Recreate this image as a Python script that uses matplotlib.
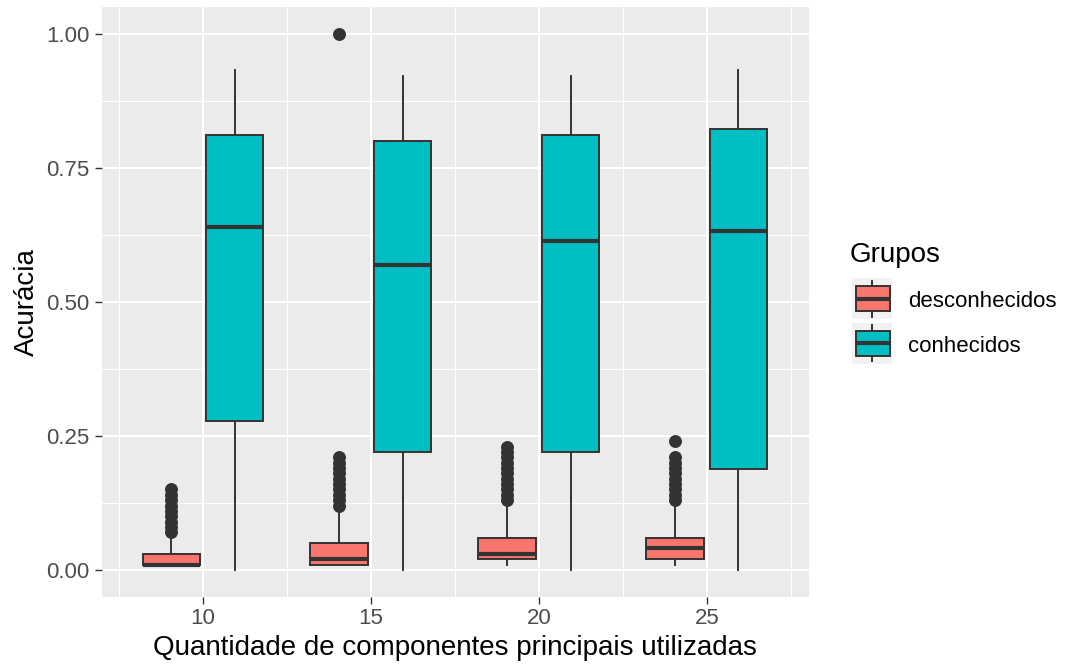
import matplotlib
matplotlib.use("Agg")
import matplotlib.pyplot as plt
from matplotlib.patches import Rectangle
from matplotlib.lines import Line2D

plt.rcParams["font.family"] = ["Liberation Sans", "DejaVu Sans"]

# ---- data -------------------------------------------------------------
componentes = [10, 15, 20, 25]
grupos = ["desconhecidos", "conhecidos"]
cores = ["#F8766D", "#00BFC4"]

# grupo "desconhecidos"
desc_q1 = [0.01, 0.01, 0.02, 0.02]
desc_med = [0.01, 0.02, 0.03, 0.04]
desc_q3 = [0.03, 0.05, 0.06, 0.06]
desc_lo = [0.01, 0.01, 0.01, 0.01]
desc_hi = [0.06, 0.11, 0.12, 0.12]
desc_out = [
    [0.07, 0.08, 0.09, 0.10, 0.11, 0.12, 0.13, 0.14, 0.15],
    [0.12, 0.13, 0.14, 0.15, 0.16, 0.17, 0.18, 0.19, 0.20, 0.21, 1.00],
    [0.13, 0.14, 0.15, 0.16, 0.17, 0.18, 0.19, 0.20, 0.21, 0.22, 0.23],
    [0.13, 0.14, 0.15, 0.16, 0.17, 0.18, 0.19, 0.20, 0.21, 0.24],
]

# grupo "conhecidos"
conh_q1 = [0.277, 0.219, 0.219, 0.189]
conh_med = [0.639, 0.568, 0.613, 0.633]
conh_q3 = [0.811, 0.800, 0.811, 0.822]
conh_lo = [0.0, 0.0, 0.0, 0.0]
conh_hi = [0.932, 0.921, 0.921, 0.932]
conh_out = [[], [], [], []]

y_ticks = [0.0, 0.25, 0.50, 0.75, 1.00]
y_ticklabels = ["0.00", "0.25", "0.50", "0.75", "1.00"]

# ---- styling ------------------------------------------------------------
W, H = 1065, 665
PANEL = "#EBEBEB"
DARK = "#333333"
OFFSET = 0.94      # dodge offset of each group around the x value
BOX_W = 1.72       # box width in x units
LW = 1.4

fig = plt.figure(figsize=(W / 100, H / 100), dpi=100)
left, right, top, bottom = 102, 808.7, 7, 596.7
ax = fig.add_axes([left / W, 1 - bottom / H, (right - left) / W, (bottom - top) / H])
ax.set_facecolor(PANEL)


def stats_for(q1, med, q3, lo, hi, out):
    return [dict(q1=a, med=b, q3=c, whislo=d, whishi=e, fliers=f)
            for a, b, c, d, e, f in zip(q1, med, q3, lo, hi, out)]


series = [
    (stats_for(desc_q1, desc_med, desc_q3, desc_lo, desc_hi, desc_out), -OFFSET, cores[0]),
    (stats_for(conh_q1, conh_med, conh_q3, conh_lo, conh_hi, conh_out), OFFSET, cores[1]),
]

for stats, shift, cor in series:
    ax.bxp(
        stats,
        positions=[c + shift for c in componentes],
        widths=BOX_W,
        patch_artist=True,
        showcaps=False,
        manage_ticks=False,
        boxprops=dict(facecolor=cor, edgecolor=DARK, linewidth=LW),
        medianprops=dict(color=DARK, linewidth=3.0, solid_capstyle="butt"),
        whiskerprops=dict(color=DARK, linewidth=LW),
        flierprops=dict(marker="o", markerfacecolor=DARK, markeredgecolor=DARK,
                        markersize=8.3, linestyle="none"),
        zorder=3,
    )

ax.set_xlim(6.994, 28.03)
ax.set_ylim(-0.05, 1.05)
ax.set_xticks(componentes)
ax.set_xticklabels([str(c) for c in componentes])
ax.set_xticks([7.5, 12.5, 17.5, 22.5, 27.5], minor=True)
ax.set_yticks(y_ticks)
ax.set_yticklabels(y_ticklabels)
ax.set_yticks([0.125, 0.375, 0.625, 0.875], minor=True)

ax.grid(which="major", color="white", linewidth=1.5)
ax.grid(which="minor", color="white", linewidth=0.75)
ax.set_axisbelow(True)
for s in ax.spines.values():
    s.set_visible(False)
ax.tick_params(which="major", length=4.8, width=1.0, color=DARK,
               labelcolor="#4D4D4D", labelsize=16, pad=4)
ax.tick_params(axis="x", which="major", pad=3)
ax.tick_params(which="minor", length=0)

ax.set_xlabel("Quantidade de componentes principais utilizadas", fontsize=20,
              color="black", va="baseline")
ax.xaxis.set_label_coords((455 - left) / (right - left), (bottom - 655) / (bottom - top))
ax.set_ylabel("Acurácia", fontsize=20, color="black", va="baseline",
              rotation_mode="anchor")
ax.yaxis.set_label_coords((33.5 - left) / (right - left), (bottom - 302) / (bottom - top))

# ---- legend ---------------------------------------------------------------
leg = fig.add_axes([0, 0, 1, 1], zorder=5)
leg.set_xlim(0, W)
leg.set_ylim(H, 0)
leg.axis("off")
leg.text(850, 262, "Grupos", fontsize=20, color="black", va="baseline", ha="left")

key_tops = [278, 322.5]
for nome, cor, kt in zip(grupos, cores, key_tops):
    leg.add_patch(Rectangle((852, kt), 40, 41, facecolor="#F2F2F2", edgecolor="none"))
    cy = kt + 20.5
    leg.add_line(Line2D([872, 872], [cy - 18, cy + 18], color=DARK, linewidth=LW))
    leg.add_patch(Rectangle((855.5, cy - 12.5), 34, 25, facecolor=cor,
                            edgecolor=DARK, linewidth=LW, zorder=3))
    leg.add_line(Line2D([855.5, 889.5], [cy, cy], color=DARK, linewidth=3.0,
                        solid_capstyle="butt", zorder=4))
    leg.text(908, cy + 8.5, nome, fontsize=16, color="black", va="baseline", ha="left")

fig.savefig("out.png", dpi=100)
